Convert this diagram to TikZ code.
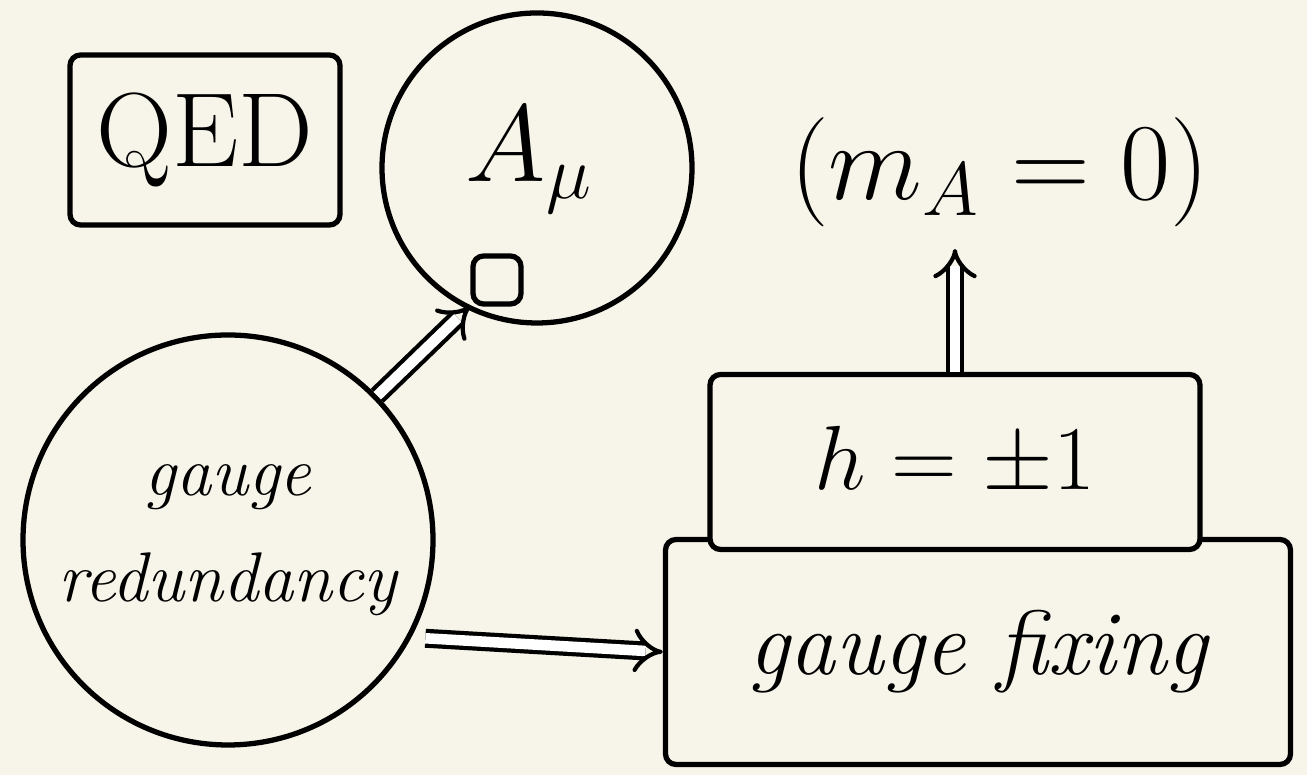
\documentclass[tikz,border=0pt]{standalone}
\usetikzlibrary{arrows.meta}
\definecolor{paper}{HTML}{F7F5EA}
\tikzset{
  ink/.style={draw, line width=1.5pt, rounded corners=3pt},
  blob/.style={draw, circle, line width=1.5pt, inner sep=0pt},
  dbl/.style={double, double distance=3pt, line width=1.2pt, -{Implies}},
}
\begin{document}
\begin{tikzpicture}
    % paper
    \fill[paper] (0,0) rectangle (13.07,-7.75);
    \useasboundingbox (0,0) rectangle (13.07,-7.75);

    % top row
    \node[ink, minimum width=2.7cm, minimum height=1.7cm,
          font=\fontsize{30}{32}\selectfont] (qed) at (2.05,-1.4) {QED};
    \node[blob, minimum size=3.1cm] (amu) at (5.37,-1.68) {};
    \node[scale=1.8, font=\LARGE] (amutext) at (5.3,-1.6) {$A_\mu$};
    \node[ink, minimum size=0.48cm] (sq) at (4.97,-2.8) {};
    \node[scale=1.8, font=\LARGE] (mzero) at (10.0,-1.72) {$(m_A=0)$};

    % lower left
    \node[blob, minimum size=4.1cm, align=center,
          font=\itshape\fontsize{20}{28}\selectfont] (gaugered) at (2.28,-5.4) {gauge\\[2pt] redundancy};

    % stacked boxes
    \node[ink, minimum width=6.25cm, minimum height=2.25cm,
          font=\itshape\fontsize{26}{30}\selectfont] (fixbox) at (9.78,-6.52) {gauge fixing};
    \node[ink, fill=paper, minimum width=4.9cm, minimum height=1.75cm] (hbox) at (9.55,-4.62) {};
    \node[scale=1.5, font=\LARGE] (htext) at (hbox) {$h=\pm1$};

    % arrows
    \draw[dbl] (gaugered) -- (sq);
    \draw[dbl, shorten <=4pt] (gaugered.-28) -- (fixbox.west);
    \draw[dbl] (hbox.north) -- (hbox.north |- mzero.south);
\end{tikzpicture}
\end{document}
